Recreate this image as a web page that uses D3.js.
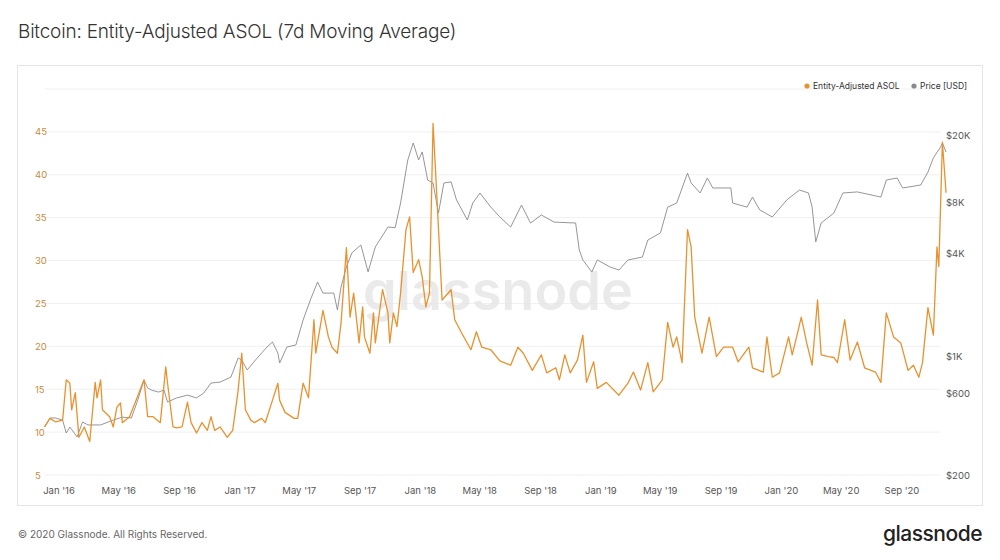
<!DOCTYPE html>
<html><head><meta charset="utf-8">
<script src="https://cdn.jsdelivr.net/npm/d3@7"></script>
<style>body{margin:0;background:#fff;font-family:Inter,"Open Sans",sans-serif}</style>
</head><body><svg id="c" width="1000" height="560"></svg>
<script>
// decimal year, value
const asolData = [[2015.92,10.6],[2015.95,11.6],[2015.98,11.2],[2016.02,11.4],[2016.04,16.1],[2016.06,15.7],[2016.07,12.6],[2016.09,14.6],[2016.11,9.4],[2016.14,10.6],[2016.17,8.9],[2016.20,15.8],[2016.21,14],[2016.23,16.1],[2016.24,12.6],[2016.28,11.8],[2016.30,10.6],[2016.32,12.9],[2016.34,13.4],[2016.35,11.1],[2016.39,11.8],[2016.42,13.4],[2016.47,16.1],[2016.49,11.8],[2016.52,11.8],[2016.56,11.1],[2016.59,17.6],[2016.60,15.7],[2016.63,10.6],[2016.65,10.5],[2016.68,10.6],[2016.71,13.5],[2016.73,11.1],[2016.76,9.9],[2016.79,11.1],[2016.82,10.2],[2016.84,11.8],[2016.86,10.2],[2016.89,10.6],[2016.93,9.4],[2016.96,10.2],[2016.99,14.9],[2017.01,19.2],[2017.03,12.6],[2017.06,11.4],[2017.08,11.1],[2017.12,11.6],[2017.14,11.1],[2017.18,13.7],[2017.21,15.7],[2017.22,13.7],[2017.25,12.3],[2017.30,11.6],[2017.32,11.6],[2017.35,15.7],[2017.38,14],[2017.41,23.1],[2017.42,19.2],[2017.46,24.2],[2017.49,21.1],[2017.51,19.9],[2017.54,19.2],[2017.56,22.7],[2017.59,31.5],[2017.61,23.4],[2017.63,26.2],[2017.66,20.4],[2017.68,24.6],[2017.69,21.1],[2017.72,19.2],[2017.74,23.9],[2017.75,20.4],[2017.79,26.6],[2017.82,23.9],[2017.83,20.4],[2017.85,23.9],[2017.87,22.3],[2017.89,26.2],[2017.92,33.6],[2017.94,35.1],[2017.96,28.6],[2017.99,30.1],[2018.01,28.1],[2018.03,24.6],[2018.05,26.2],[2018.07,46],[2018.09,37.9],[2018.12,25.4],[2018.17,26.6],[2018.19,23.1],[2018.23,21.5],[2018.28,19.6],[2018.31,21.7],[2018.34,19.9],[2018.39,19.6],[2018.44,18.3],[2018.50,17.8],[2018.54,19.9],[2018.57,19.2],[2018.62,17.2],[2018.67,19],[2018.70,16.9],[2018.75,17.5],[2018.77,16.1],[2018.80,19],[2018.83,16.9],[2018.87,18.4],[2018.90,21.3],[2018.92,15.8],[2018.96,18.2],[2018.98,15.1],[2019.03,15.8],[2019.10,14.3],[2019.15,15.7],[2019.18,17],[2019.22,14.9],[2019.26,18.1],[2019.29,14.7],[2019.34,16.1],[2019.37,22.8],[2019.40,19.9],[2019.42,21.1],[2019.45,18.1],[2019.48,33.6],[2019.50,31.6],[2019.52,23.4],[2019.56,19.2],[2019.60,23.4],[2019.64,18.8],[2019.68,19.9],[2019.73,19.9],[2019.76,18.2],[2019.82,19.9],[2019.84,17.5],[2019.90,17],[2019.92,21.1],[2019.95,16.4],[2019.99,16.9],[2020.04,21.1],[2020.06,19],[2020.09,21.6],[2020.11,23.4],[2020.14,20.4],[2020.17,17.8],[2020.20,25.4],[2020.22,19],[2020.26,18.8],[2020.29,18.7],[2020.31,18.1],[2020.35,23.1],[2020.38,18.4],[2020.42,20.5],[2020.46,17.5],[2020.52,17],[2020.55,15.8],[2020.58,23.9],[2020.62,21.1],[2020.66,20.4],[2020.70,17.2],[2020.73,17.8],[2020.76,16.4],[2020.78,18.1],[2020.81,24.5],[2020.84,21.3],[2020.86,31.6],[2020.87,29.3],[2020.89,43.8],[2020.91,37.9]];
const priceData = [[2015.92,383],[2015.95,433],[2015.98,433],[2016.02,421],[2016.04,353],[2016.06,383],[2016.10,335],[2016.13,410],[2016.16,394],[2016.23,394],[2016.30,421],[2016.35,438],[2016.40,433],[2016.43,531],[2016.47,724],[2016.49,650],[2016.51,632],[2016.55,615],[2016.58,632],[2016.60,537],[2016.65,568],[2016.71,590],[2016.76,568],[2016.80,607],[2016.84,695],[2016.89,704],[2016.95,753],[2016.99,975],[2017.01,950],[2017.04,830],[2017.10,988],[2017.15,1132],[2017.18,1212],[2017.21,1044],[2017.22,912],[2017.26,1132],[2017.31,1164],[2017.35,1632],[2017.39,2140],[2017.43,2730],[2017.46,2350],[2017.52,2350],[2017.54,1870],[2017.56,2550],[2017.59,3350],[2017.62,4050],[2017.67,4510],[2017.71,3130],[2017.75,4390],[2017.82,5750],[2017.86,5700],[2017.89,7960],[2017.93,14260],[2017.96,17950],[2017.99,14260],[2018.01,15900],[2018.04,10870],[2018.07,10440],[2018.10,6950],[2018.13,10440],[2018.17,10600],[2018.20,8300],[2018.26,6320],[2018.29,7960],[2018.33,9120],[2018.39,7530],[2018.44,6590],[2018.50,5750],[2018.56,7740],[2018.61,6070],[2018.67,6770],[2018.74,6150],[2018.86,6070],[2018.88,4220],[2018.90,3680],[2018.95,3130],[2018.98,3680],[2019.05,3350],[2019.10,3210],[2019.15,3680],[2019.23,3830],[2019.26,4820],[2019.33,5310],[2019.37,7530],[2019.42,7960],[2019.48,11940],[2019.50,10440],[2019.55,9120],[2019.59,11170],[2019.62,9760],[2019.72,9760],[2019.73,7960],[2019.81,7530],[2019.84,8630],[2019.88,7250],[2019.95,6590],[2020.03,8300],[2020.10,9490],[2020.15,9120],[2020.17,7530],[2020.19,4700],[2020.22,6070],[2020.29,6950],[2020.34,9120],[2020.42,9250],[2020.55,8630],[2020.58,10870],[2020.64,11170],[2020.67,9760],[2020.77,10160],[2020.81,12100],[2020.84,14650],[2020.88,17000],[2020.89,17950],[2020.91,15900]];
const leftTicks = [5,10,15,20,25,30,35,40,45,50];
const rightTicks = [200,600,1000,4000,8000,20000];
const rightLabels = ["$200","$600","$1K","$4K","$8K","$20K"];
const xTickDates = ["2016-01-01","2016-05-01","2016-09-01","2017-01-01","2017-05-01","2017-09-01","2018-01-01","2018-05-01","2018-09-01","2019-01-01","2019-05-01","2019-09-01","2020-01-01","2020-05-01","2020-09-01"];

function dec(d){const y=Math.floor(d);const a=Date.UTC(y,0,1),b=Date.UTC(y+1,0,1);return new Date(a+(d-y)*(b-a));}
const svg=d3.select("#c");
const ORANGE="#e8922f", GREY="#8a8a8a";
svg.append("text").attr("x",18).attr("y",38).attr("font-size",19).attr("font-weight",300).attr("fill","#333").attr("letter-spacing","-0.2").text("Bitcoin: Entity-Adjusted ASOL (7d Moving Average)");
svg.append("rect").attr("x",17.5).attr("y",65.5).attr("width",965).attr("height",440).attr("fill","#fff").attr("stroke","#e6e6e6");
svg.append("text").attr("x",18).attr("y",538).attr("font-size",10).attr("fill","#666").text("© 2020 Glassnode. All Rights Reserved.");
svg.append("text").attr("x",982).attr("y",541).attr("text-anchor","end").attr("font-size",21).attr("font-weight",500).attr("fill","#222").attr("letter-spacing","-0.5").text("glassnode");

const x=d3.scaleUtc().domain([new Date(Date.UTC(2016,0,1)),new Date(Date.UTC(2020,8,1))]).range([59,902]);
const y=d3.scaleLinear().domain([5,50]).range([475,89]);
const yr=d3.scaleLog().domain([200,20000]).range([475,135]);

svg.append("g").selectAll("line").data(leftTicks).join("line").attr("x1",45).attr("x2",940).attr("y1",d=>y(d)).attr("y2",d=>y(d)).attr("stroke","#f0f0f0");
svg.append("text").attr("x",498).attr("y",310).attr("text-anchor","middle").attr("font-size",54).attr("font-weight",600).attr("fill","#e4e4e4").attr("opacity",0.75).text("glassnode");

svg.append("g").selectAll("text").data(leftTicks.filter(d=>d<50)).join("text").attr("x",35).attr("y",d=>y(d)+3.5).attr("font-size",9.5).attr("fill","#c98a3c").text(d=>d);
svg.append("g").selectAll("text").data(rightTicks).join("text").attr("x",946).attr("y",d=>yr(d)+3.5).attr("font-size",9.5).attr("fill","#555").text((d,i)=>rightLabels[i]);
const fmt=d3.utcFormat("%b '%y");
svg.append("g").selectAll("text").data(xTickDates.map(s=>new Date(s+"T00:00:00Z"))).join("text").attr("x",d=>x(d)).attr("y",494).attr("text-anchor","middle").attr("font-size",9.5).attr("fill","#555").text(d=>fmt(d));

svg.append("path").datum(priceData).attr("fill","none").attr("stroke",GREY).attr("stroke-width",0.9)
 .attr("d",d3.line().x(d=>x(dec(d[0]))).y(d=>yr(d[1])));
svg.append("path").datum(asolData).attr("fill","none").attr("stroke",ORANGE).attr("stroke-width",1.3).attr("stroke-linejoin","round")
 .attr("d",d3.line().x(d=>x(dec(d[0]))).y(d=>y(d[1])));

const lg=svg.append("g").attr("font-size",8.5).attr("fill","#333");
lg.append("circle").attr("cx",807).attr("cy",86).attr("r",2.6).attr("fill",ORANGE);
lg.append("text").attr("x",813).attr("y",89).text("Entity-Adjusted ASOL");
lg.append("circle").attr("cx",914).attr("cy",86).attr("r",2.6).attr("fill",GREY);
lg.append("text").attr("x",920).attr("y",89).text("Price [USD]");
</script></body></html>
